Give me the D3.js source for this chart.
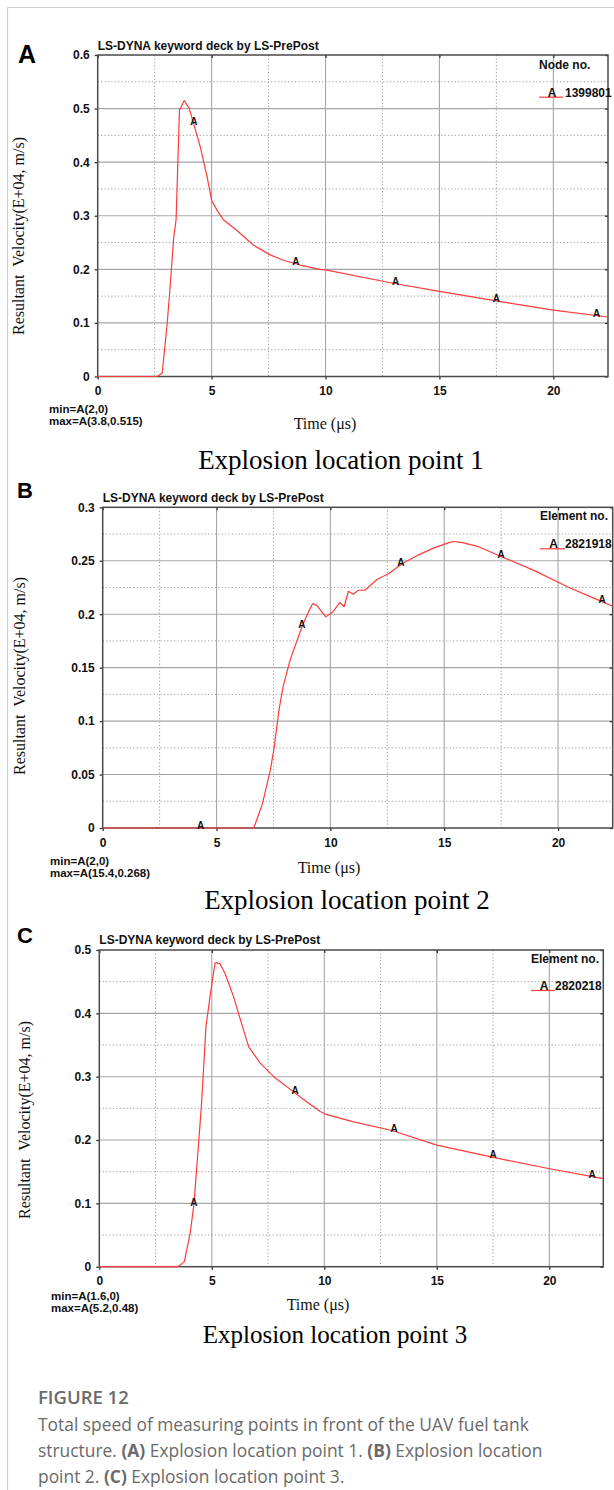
<!DOCTYPE html>
<html>
<head>
<meta charset="utf-8">
<script src="https://cdn.jsdelivr.net/npm/d3@7"></script>
<style>
  html, body { margin: 0; padding: 0; background: #fff; }
  svg { display: block; }
  .tick text { font-family: Arial, "Liberation Sans", sans-serif; font-weight: bold; font-size: 12px; fill: #111; }
</style>
</head>
<body>
<svg id="fig" width="614" height="1490"></svg>
<script>
// ---- data: resultant velocity (E+04 m/s) versus time (µs) ----
const timeA = [0, 2.6, 2.83, 3.05, 3.19, 3.34, 3.44, 3.59, 3.8, 4.02, 4.21, 4.5, 4.8, 5.0, 5.24, 5.53, 6.1, 6.84, 7.57, 8.15, 8.88, 9.75, 10, 12.96, 15, 17.49, 20, 22.4];
const velA  = [0, 0, 0.006, 0.099, 0.174, 0.261, 0.292, 0.497, 0.515, 0.5, 0.472, 0.429, 0.373, 0.329, 0.31, 0.292, 0.273, 0.245, 0.227, 0.217, 0.208, 0.2, 0.199, 0.174, 0.159, 0.141, 0.124, 0.111];

const timeB = [0, 6.64, 7.02, 7.36, 7.53, 7.74, 7.92, 8.23, 8.75, 8.97, 9.22, 9.41, 9.8, 10.1, 10.42, 10.6, 10.79, 11.0, 11.23, 11.52, 12.06, 12.57, 13.16, 13.82, 14.55, 15.21, 15.4, 15.8, 16.46, 17.49, 18.94, 20.43, 21.9, 22.4];
const velB  = [0, 0, 0.023, 0.054, 0.075, 0.11, 0.132, 0.157, 0.188, 0.199, 0.21, 0.208, 0.1975, 0.202, 0.211, 0.207, 0.2215, 0.2187, 0.2224, 0.2224, 0.2327, 0.238, 0.2474, 0.255, 0.262, 0.267, 0.268, 0.267, 0.2635, 0.254, 0.241, 0.2255, 0.212, 0.2075];

const timeC = [0, 3.5, 3.78, 4.04, 4.21, 4.39, 4.53, 4.64, 4.74, 4.92, 5.14, 5.2, 5.37, 5.59, 5.97, 6.27, 6.64, 7.16, 7.75, 8.64, 9.0, 9.82, 10.04, 11.26, 13, 15, 17.52, 19.96, 22.4];
const velC  = [0, 0, 0.008, 0.053, 0.1, 0.184, 0.25, 0.316, 0.379, 0.426, 0.479, 0.48, 0.478, 0.463, 0.426, 0.39, 0.347, 0.321, 0.3, 0.276, 0.266, 0.245, 0.241, 0.229, 0.215, 0.192, 0.1725, 0.155, 0.139];

// curve-label ("A") positions along each history, in µs
const markA = [4.22, 8.7, 13.08, 17.5, 21.9];
const markB = [4.3, 8.75, 13.1, 17.5, 21.93];
const markC = [4.2, 8.7, 13.1, 17.5, 21.9];

// axis ticks
const xTicks = [0, 5, 10, 15, 20];
const xMinor = [2.5, 7.5, 12.5, 17.5];
const yTicksA = [0, 0.1, 0.2, 0.3, 0.4, 0.5, 0.6];
const yMinorA = [0.05, 0.15, 0.25, 0.35, 0.45, 0.55];
const yTicksB = [0, 0.05, 0.1, 0.15, 0.2, 0.25, 0.3];
const yMinorB = [0.025, 0.075, 0.125, 0.175, 0.225, 0.275];
const yTicksC = [0, 0.1, 0.2, 0.3, 0.4, 0.5];
const yMinorC = [0.05, 0.15, 0.25, 0.35, 0.45];

// text content
const panelLetters = ["A", "B", "C"];
const legendHeads = ["Node no.", "Element no.", "Element no."];
const entityIds = ["1399801", "2821918", "2820218"];
const minTexts = ["min=A(2,0)", "min=A(2,0)", "min=A(1.6,0)"];
const maxTexts = ["max=A(3.8,0.515)", "max=A(15.4,0.268)", "max=A(5.2,0.48)"];
const subCaptions = ["Explosion location point 1", "Explosion location point 2", "Explosion location point 3"];
const plotTitle = "LS-DYNA keyword deck by LS-PrePost";
const yTitle = "Resultant  Velocity(E+04, m/s)";
const xTitle = "Time (\u03bcs)";

const svg = d3.select("#fig");
svg.append("rect").attr("width", 614).attr("height", 1490).attr("fill", "#fff");

// page frame (top and left rules)
svg.append("line").attr("x1", 7.5).attr("y1", 7.5).attr("x2", 614).attr("y2", 7.5)
  .attr("stroke", "#cfcfcf").attr("stroke-width", 1.2);
svg.append("line").attr("x1", 7.5).attr("y1", 7.5).attr("x2", 7.5).attr("y2", 1490)
  .attr("stroke", "#cfcfcf").attr("stroke-width", 1.2);

const SANS = "Arial, 'Liberation Sans', sans-serif";
const SERIF = "'Times New Roman', 'Liberation Serif', serif";

const panels = [
  { t: timeA, v: velA, marks: markA, yTicks: yTicksA, yMinor: yMinorA, yMax: 0.6,
    L: 97.7, T: 55, R: 608, B: 376.5,
    letter: [18, 63, 25], titleY: 50, legX: 539, legHeadY: 69, legY: 96.7, legLineEnd: 563, idX: 565,
    yLab: [24, 236], minX: 49, minY: 413, timeX: 325, timeY: 429, capX: 341, capY: 469, capSize: 27 },
  { t: timeB, v: velB, marks: markB, yTicks: yTicksB, yMinor: yMinorB, yMax: 0.3,
    L: 102.7, T: 507.3, R: 612.7, B: 828,
    letter: [17, 498, 22], titleY: 501.5, legX: 540, legHeadY: 520, legY: 548.3, legLineEnd: 565, idX: 565,
    yLab: [25, 676], minX: 50, minY: 865, timeX: 329, timeY: 873, capX: 347, capY: 909, capSize: 27 },
  { t: timeC, v: velC, marks: markC, yTicks: yTicksC, yMinor: yMinorC, yMax: 0.5,
    L: 99.3, T: 950, R: 603.3, B: 1266.7,
    letter: [17, 943, 22], titleY: 944, legX: 531, legHeadY: 963, legLineEnd: 555, legY: 990, idX: 555,
    yLab: [30, 1120], minX: 51, minY: 1300, timeX: 318, timeY: 1310, capX: 335, capY: 1343, capSize: 25 }
];

panels.forEach((p, i) => {
  const x = d3.scaleLinear().domain([0, 22.4]).range([p.L, p.R]);
  const y = d3.scaleLinear().domain([0, p.yMax]).range([p.B, p.T]);
  const g = svg.append("g");

  // minor dotted grid
  g.selectAll(".vmin").data(xMinor).join("line")
    .attr("x1", d => x(d)).attr("x2", d => x(d)).attr("y1", p.T).attr("y2", p.B)
    .attr("stroke", "#9a9a9a").attr("stroke-width", 1).attr("stroke-dasharray", "1.2,2.2");
  g.selectAll(".hmin").data(p.yMinor).join("line")
    .attr("x1", p.L).attr("x2", p.R).attr("y1", d => y(d)).attr("y2", d => y(d))
    .attr("stroke", "#9a9a9a").attr("stroke-width", 1).attr("stroke-dasharray", "1.2,2.2");
  // major solid grid
  g.selectAll(".vmaj").data(xTicks.filter(d => d > 0)).join("line")
    .attr("x1", d => x(d)).attr("x2", d => x(d)).attr("y1", p.T).attr("y2", p.B)
    .attr("stroke", "#a6a6a6").attr("stroke-width", 1.1);
  g.selectAll(".hmaj").data(p.yTicks.filter(d => d > 0 && d < p.yMax)).join("line")
    .attr("x1", p.L).attr("x2", p.R).attr("y1", d => y(d)).attr("y2", d => y(d))
    .attr("stroke", "#a6a6a6").attr("stroke-width", 1.1);

  // axes
  const fmt = d => String(d);
  const ax = g.append("g").attr("transform", `translate(0,${p.B})`)
    .call(d3.axisBottom(x).tickValues(xTicks).tickSize(3).tickPadding(5).tickFormat(fmt));
  const ay = g.append("g").attr("transform", `translate(${p.L},0)`)
    .call(d3.axisLeft(y).tickValues(p.yTicks).tickSize(3).tickPadding(5).tickFormat(fmt));
  const at = g.append("g").attr("transform", `translate(0,${p.T})`)
    .call(d3.axisTop(x).tickValues(xTicks).tickSize(-3).tickFormat(""));
  const ar = g.append("g").attr("transform", `translate(${p.R},0)`)
    .call(d3.axisRight(y).tickValues(p.yTicks).tickSize(-3).tickFormat(""));
  [ax, ay, at, ar].forEach(a => {
    a.select(".domain").remove();
    a.selectAll(".tick line").attr("stroke", "#333").attr("stroke-width", 1.3);
  });
  ax.selectAll(".tick text").attr("dy", "0.9em");

  // plot frame
  g.append("rect").attr("x", p.L).attr("y", p.T).attr("width", p.R - p.L).attr("height", p.B - p.T)
    .attr("fill", "none").attr("stroke", "#4a4a4a").attr("stroke-width", 1.5);

  // velocity history
  const pts = p.t.map((t, k) => [t, p.v[k]]);
  g.append("path").datum(pts)
    .attr("d", d3.line().x(d => x(d[0])).y(d => y(d[1])))
    .attr("fill", "none").attr("stroke", "#ff3a3a").attr("stroke-width", 1.2)
    .attr("stroke-linejoin", "round");

  // curve labels
  const bis = d3.bisector(d => d).left;
  const interp = t => {
    const k = Math.max(1, Math.min(p.t.length - 1, bis(p.t, t)));
    const t0 = p.t[k - 1], t1 = p.t[k];
    return p.v[k - 1] + (p.v[k] - p.v[k - 1]) * (t - t0) / (t1 - t0);
  };
  g.selectAll(".mk").data(p.marks).join("text")
    .attr("x", d => x(d)).attr("y", d => y(interp(d)) + 1)
    .attr("text-anchor", "middle")
    .attr("font-family", SANS).attr("font-weight", "bold").attr("font-size", 10).attr("fill", "#111")
    .text("A");

  // legend
  g.append("text").attr("x", p.legX).attr("y", p.legHeadY)
    .attr("font-family", SANS).attr("font-weight", "bold").attr("font-size", 12).attr("fill", "#111")
    .text(legendHeads[i]);
  g.append("line").attr("x1", p.legX).attr("x2", p.legLineEnd).attr("y1", p.legY + 0.5).attr("y2", p.legY + 0.5)
    .attr("stroke", "#ff3a3a").attr("stroke-width", 1.2);
  g.append("text").attr("x", (p.legX + p.legLineEnd) / 2 + 1).attr("y", p.legY)
    .attr("text-anchor", "middle")
    .attr("font-family", SANS).attr("font-weight", "bold").attr("font-size", 12).attr("fill", "#111")
    .text("A");
  g.append("text").attr("x", p.idX).attr("y", p.legY)
    .attr("font-family", SANS).attr("font-weight", "bold").attr("font-size", 12).attr("fill", "#111")
    .text(entityIds[i]);

  // plot heading and panel letter
  g.append("text").attr("x", p.L).attr("y", p.titleY)
    .attr("font-family", SANS).attr("font-weight", "bold").attr("font-size", 12).attr("fill", "#111")
    .text(plotTitle);
  g.append("text").attr("x", p.letter[0]).attr("y", p.letter[1])
    .attr("font-family", SANS).attr("font-weight", "bold").attr("font-size", p.letter[2]).attr("fill", "#000")
    .text(panelLetters[i]);

  // axis titles
  g.append("text")
    .attr("transform", `translate(${p.yLab[0]},${p.yLab[1]}) rotate(-90)`)
    .attr("text-anchor", "middle").style("white-space", "pre")
    .attr("font-family", SERIF).attr("font-size", 16).attr("fill", "#111")
    .text(yTitle);
  g.append("text").attr("x", p.timeX).attr("y", p.timeY).attr("text-anchor", "middle")
    .attr("font-family", SERIF).attr("font-size", 16).attr("fill", "#111")
    .text(xTitle);

  // extremes
  g.append("text").attr("x", p.minX).attr("y", p.minY)
    .attr("font-family", SANS).attr("font-weight", "bold").attr("font-size", 11.5).attr("fill", "#111")
    .text(minTexts[i]);
  g.append("text").attr("x", p.minX).attr("y", p.minY + 11.5)
    .attr("font-family", SANS).attr("font-weight", "bold").attr("font-size", 11.5).attr("fill", "#111")
    .text(maxTexts[i]);

  // sub-caption
  g.append("text").attr("x", p.capX).attr("y", p.capY).attr("text-anchor", "middle")
    .attr("font-family", SERIF).attr("font-size", p.capSize).attr("fill", "#000")
    .text(subCaptions[i]);
});

// figure caption
const capLines = [
  [{ t: "Total speed of measuring points in front of the UAV fuel tank" }],
  [{ t: "structure. " }, { t: "(A)", b: true }, { t: " Explosion location point 1. " }, { t: "(B)", b: true }, { t: " Explosion location" }],
  [{ t: "point 2. " }, { t: "(C)", b: true }, { t: " Explosion location point 3." }]
];
svg.append("text").attr("x", 38).attr("y", 1404)
  .attr("font-family", "'Open Sans', Lato, sans-serif").attr("font-size", 18.5).attr("font-weight", 600)
  .attr("fill", "#6a6a6a").text("FIGURE 12");
capLines.forEach((line, k) => {
  const tx = svg.append("text").attr("x", 38).attr("y", 1431 + k * 26)
    .attr("font-family", "'Open Sans', Lato, sans-serif").attr("font-size", 17.4).attr("fill", "#6a6a6a")
    .style("white-space", "pre");
  line.forEach(s => tx.append("tspan").attr("font-weight", s.b ? 700 : 400).text(s.t));
});
</script>
</body>
</html>
